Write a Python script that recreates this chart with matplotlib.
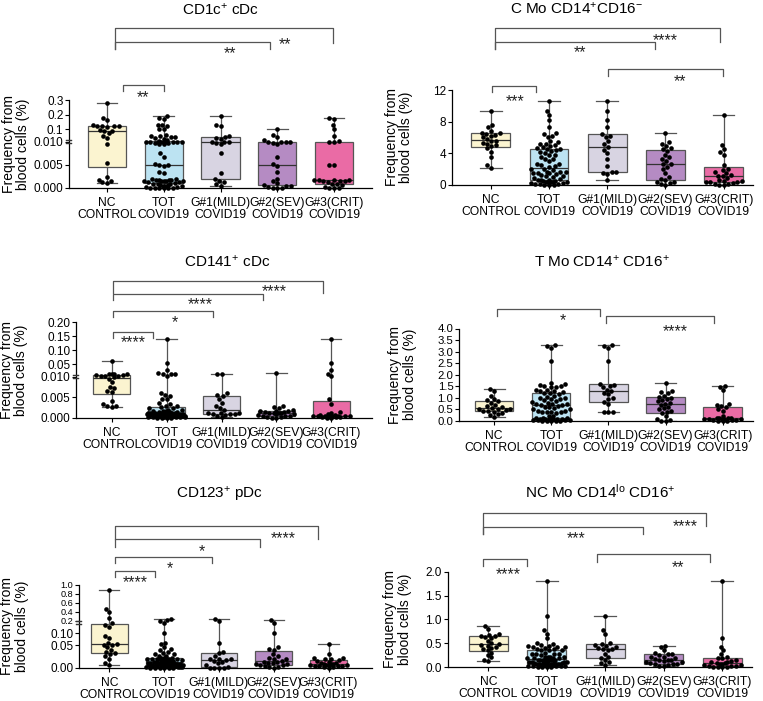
import numpy as np
import matplotlib
matplotlib.use("Agg")
import matplotlib.pyplot as plt
from matplotlib import transforms as mtrans

plt.rcParams["font.family"] = ["Liberation Sans", "DejaVu Sans"]
plt.rcParams["mathtext.fontset"] = "custom"
plt.rcParams["mathtext.rm"] = "Liberation Sans"
plt.rcParams["mathtext.it"] = "Liberation Sans:italic"

# ---- data (frequency from blood cells, %) ----
groups = ["NC\nCONTROL", "TOT\nCOVID19", "G#1(MILD)\nCOVID19", "G#2(SEV)\nCOVID19", "G#3(CRIT)\nCOVID19"]
colors = ["#FBF4D0", "#BCE3F2", "#D8D4E2", "#B58BC3", "#EA6BA5"]

cd1c_nc = [0.0010, 0.0012, 0.0015, 0.0018, 0.0023, 0.0054, 0.0095, 0.04, 0.054, 0.071, 0.085, 0.09, 0.095,
           0.118, 0.12, 0.121, 0.123, 0.125, 0.128, 0.167, 0.179, 0.284]
cd1c_g1 = [0.0005, 0.0008, 0.0012, 0.0015, 0.002, 0.0032, 0.0075, 0.0095, 0.0098, 0.010, 0.0105, 0.012,
           0.03, 0.04, 0.046, 0.05, 0.12, 0.13, 0.19]
cd1c_g2 = [0, 0, 0, 0.0002, 0.0004, 0.0005, 0.0007, 0.001, 0.0015, 0.002, 0.0035, 0.0048, 0.0052, 0.0068,
           0.0095, 0.0098, 0.010, 0.0101, 0.0103, 0.0105, 0.025, 0.045, 0.06, 0.10]
cd1c_g3 = [0, 0, 0, 0.0003, 0.0006, 0.0009, 0.0009, 0.0012, 0.0015, 0.0016, 0.0016, 0.0017, 0.0017, 0.0018,
           0.0018, 0.005, 0.005, 0.010, 0.011, 0.0122, 0.05, 0.10, 0.13, 0.17, 0.175]

cmo_nc = [2.1, 2.5, 3.5, 4.2, 4.6, 4.9, 5.0, 5.2, 5.3, 5.5, 5.6, 5.8, 6.0, 6.2, 6.3, 6.4, 6.5, 6.6, 6.8, 7.3, 7.6, 9.4]
cmo_g1 = [0.65, 1.4, 1.5, 1.6, 1.65, 2.4, 3.3, 4.0, 4.4, 4.75, 5.15, 5.5, 6.0, 6.2, 6.4, 7.35, 8.2, 9.3, 10.6]
cmo_g2 = [0.0, 0.1, 0.2, 0.3, 0.4, 0.6, 0.7, 1.0, 1.5, 2.0, 2.3, 2.6, 2.65, 3.0, 3.3, 3.5, 3.8, 4.3, 4.5, 4.6,
          4.9, 5.2, 5.4, 6.55]
cmo_g3 = [0, 0, 0.05, 0.15, 0.25, 0.3, 0.4, 0.4, 0.45, 0.5, 0.6, 0.9, 1.1, 1.15, 1.2, 1.5, 1.6, 1.9, 2.0, 2.5,
          3.8, 4.2, 4.5, 5.0, 8.8]

cd141_nc = [0.0027, 0.0028, 0.003, 0.0033, 0.0040, 0.0063, 0.0065, 0.0072, 0.0076, 0.0086, 0.0095, 0.0099,
            0.011, 0.012, 0.013, 0.015, 0.016, 0.017, 0.018, 0.019, 0.02, 0.063]
cd141_g1 = [0.0002, 0.0006, 0.0008, 0.0009, 0.001, 0.001, 0.0011, 0.0012, 0.0013, 0.002, 0.0024, 0.0028,
            0.0036, 0.0046, 0.0053, 0.0056, 0.006, 0.018, 0.0185]
cd141_g2 = [0.0, 0.0001, 0.0002, 0.0003, 0.0004, 0.0005, 0.0006, 0.0008, 0.0009, 0.001, 0.0011, 0.0012,
            0.0012, 0.0013, 0.0014, 0.0015, 0.0016, 0.0017, 0.0018, 0.002, 0.0023, 0.0026, 0.003, 0.022]
cd141_g3 = [0, 0.0001, 0.0002, 0.0003, 0.0003, 0.0004, 0.0004, 0.0005, 0.0005, 0.0005, 0.0006, 0.0006,
            0.0006, 0.0007, 0.0008, 0.0009, 0.0012, 0.0015, 0.0035, 0.0045, 0.011, 0.02, 0.033, 0.054, 0.14]

tmo_nc = [0.17, 0.25, 0.3, 0.35, 0.4, 0.42, 0.45, 0.48, 0.5, 0.5, 0.52, 0.58, 0.6, 0.65, 0.7, 0.8, 0.85, 0.9,
          0.95, 1.08, 1.3, 1.4]
tmo_g1 = [0.38, 0.38, 0.4, 0.72, 0.82, 0.95, 1.0, 1.15, 1.2, 1.3, 1.35, 1.45, 1.5, 1.55, 1.58, 2.6, 3.17,
          3.25, 3.28]
tmo_g2 = [0.0, 0.02, 0.05, 0.1, 0.2, 0.35, 0.4, 0.45, 0.5, 0.55, 0.6, 0.7, 0.75, 0.8, 0.85, 0.9, 0.95, 1.0,
          1.05, 1.1, 1.2, 1.25, 1.3, 1.66]
tmo_g3 = [0, 0.01, 0.02, 0.03, 0.05, 0.06, 0.07, 0.08, 0.09, 0.1, 0.1, 0.11, 0.12, 0.13, 0.15, 0.2, 0.45, 0.5,
          0.6, 0.65, 0.7, 0.75, 1.32, 1.48, 1.5]

cd123_nc = [0.005, 0.01, 0.02, 0.025, 0.03, 0.033, 0.035, 0.04, 0.045, 0.05, 0.052, 0.055, 0.06, 0.08, 0.09,
            0.15, 0.17, 0.18, 0.27, 0.39, 0.47, 0.87]
cd123_g1 = [0, 0, 0, 0, 0.001, 0.005, 0.01, 0.012, 0.015, 0.017, 0.018, 0.02, 0.02, 0.025, 0.033, 0.035, 0.06,
            0.2, 0.244]
cd123_g2 = [0.0, 0.001, 0.002, 0.003, 0.005, 0.006, 0.007, 0.008, 0.01, 0.011, 0.012, 0.013, 0.015, 0.018,
            0.02, 0.022, 0.025, 0.03, 0.04, 0.042, 0.045, 0.107, 0.18, 0.23]
cd123_g3 = [0, 0.001, 0.002, 0.003, 0.003, 0.004, 0.004, 0.005, 0.005, 0.006, 0.006, 0.007, 0.008, 0.008,
            0.009, 0.01, 0.012, 0.015, 0.017, 0.018, 0.02, 0.021, 0.022, 0.03, 0.053]

ncmo_nc = [0.13, 0.15, 0.2, 0.25, 0.3, 0.35, 0.38, 0.4, 0.42, 0.45, 0.47, 0.49, 0.5, 0.55, 0.6, 0.63, 0.65,
           0.66, 0.68, 0.7, 0.8, 0.87]
ncmo_g1 = [0.04, 0.08, 0.1, 0.15, 0.18, 0.22, 0.28, 0.35, 0.37, 0.38, 0.4, 0.42, 0.44, 0.46, 0.475, 0.5, 0.7,
           0.78, 1.06]
ncmo_g2 = [0.02, 0.03, 0.05, 0.06, 0.07, 0.07, 0.08, 0.1, 0.1, 0.12, 0.14, 0.15, 0.15, 0.17, 0.18, 0.2, 0.22,
           0.25, 0.27, 0.28, 0.3, 0.35, 0.42, 0.45]
ncmo_g3 = [0.0, 0.0, 0.01, 0.01, 0.02, 0.02, 0.03, 0.04, 0.05, 0.06, 0.07, 0.08, 0.09, 0.1, 0.1, 0.12, 0.15,
           0.18, 0.19, 0.2, 0.27, 0.35, 0.43, 0.6, 1.8]

titles = ["CD1c$^{+}$ cDc", "C Mo CD14$^{+}$CD16$^{-}$", "CD141$^{+}$ cDc",
          "T Mo CD14$^{+}$ CD16$^{+}$", "CD123$^{+}$ pDc", "NC Mo CD14$^{\\mathrm{lo}}$ CD16$^{+}$"]

# ---- layout (reference pixels) ----
W, H = 763, 701
LAYOUT = [
    dict(box=(69, 372, 100.3, 188), x0=107, dx=56.75, title=(220, 10), ylab=16, tfs=8.5,
         seg=([0, 0.01, 0.1, 0.3], [0, 137, 174, 260]), brk=0.010,
         ticks=[0, 0.005, 0.010, 0.1, 0.2, 0.3], tlab=["0.000", "0.005", "0.010", "0.1", "0.2", "0.3"],
         brackets=[(0.28, 1.0, 1.174, 1.106, 1.106, "**", 0.63, 1.083),
                   (0.14, 2.87, 1.668, 1.582, 1.582, "**", 2.17, 1.585),
                   (0.14, 3.98, 1.821, 1.582, 1.657, "**", 3.14, 1.688)]),
    dict(box=(451.7, 753, 90, 184.7), x0=490.8, dx=58.2, title=(577, 9), ylab=399, tfs=8.5,
         seg=None, brk=None, ticks=[0, 4, 8, 12], tlab=["0", "4", "8", "12"],
         brackets=[(0.02, 0.77, 1.047, 0.979, 0.979, "***", 0.42, 0.926),
                   (0.07, 2.82, 1.510, 1.430, 1.430, "**", 1.53, 1.440),
                   (0.07, 3.93, 1.652, 1.430, 1.510, "****", 2.99, 1.570),
                   (2.02, 3.99, 1.222, 1.148, 1.148, "**", 3.25, 1.140)]),
    dict(box=(76, 372, 322.3, 418), x0=111.7, dx=54.9, title=(227, 262), ylab=14, tfs=8.5,
         seg=([0, 0.010, 0.05, 0.20], [0, 124, 161, 287]), brk=0.010,
         ticks=[0, 0.005, 0.010, 0.05, 0.10, 0.15, 0.20],
         tlab=["0.000", "0.005", "0.010", "0.05", "0.10", "0.15", "0.20"],
         brackets=[(0.03, 0.76, 0.896, 0.839, 0.839, "****", 0.39, 0.833),
                   (0.03, 1.85, 1.118, 1.052, 1.052, "*", 1.15, 1.045),
                   (0.03, 2.76, 1.293, 1.233, 1.233, "****", 1.61, 1.233),
                   (0.03, 3.85, 1.435, 1.303, 1.303, "****", 2.97, 1.366)]),
    dict(box=(459, 753, 328.5, 421), x0=494.2, dx=57.1, title=(602, 262), ylab=402.5, tfs=8.2,
         seg=None, brk=None, ticks=[0, 0.5, 1.0, 1.5, 2.0, 2.5, 3.0, 3.5, 4.0],
         tlab=["0.0", "0.5", "1.0", "1.5", "2.0", "2.5", "3.0", "3.5", "4.0"],
         brackets=[(0.05, 1.85, 1.208, 1.135, 1.135, "*", 1.20, 1.135),
                   (1.96, 3.85, 1.135, 1.056, 1.056, "****", 3.17, 1.019)]),
    dict(box=(79, 372, 584.5, 667.5), x0=109.3, dx=54.8, title=(220, 495), ylab=14.5, tfs=8.5, tfs_up=6.6,
         seg=([0, 0.05, 0.10, 0.2, 1.0], [0, 68, 103, 141, 251]), brk=0.18,
         ticks=[0, 0.05, 0.10, 0.2, 0.4, 0.6, 0.8, 1.0],
         tlab=["0.00", "0.05", "0.10", "0.2", "0.4", "0.6", "0.8", "1.0"],
         brackets=[(0.10, 0.83, 1.163, 1.094, 1.094, "****", 0.47, 1.075),
                   (0.10, 1.88, 1.335, 1.263, 1.263, "*", 1.11, 1.247),
                   (0.10, 2.75, 1.545, 1.448, 1.448, "*", 1.69, 1.448),
                   (0.10, 3.81, 1.708, 1.545, 1.545, "****", 3.18, 1.608)]),
    dict(box=(447.5, 751.7, 571.7, 667), x0=488.3, dx=58.5, title=(600, 492), ylab=397.5, tfs=8.5,
         seg=None, brk=None, ticks=[0, 0.5, 1.0, 1.5, 2.0], tlab=["0.0", "0.5", "1.0", "1.5", "2.0"],
         brackets=[(-0.09, 0.66, 1.133, 1.063, 1.063, "****", 0.34, 1.018),
                   (-0.09, 2.65, 1.472, 1.396, 1.396, "***", 1.51, 1.396),
                   (-0.09, 3.72, 1.613, 1.396, 1.480, "****", 3.36, 1.525),
                   (1.85, 3.79, 1.183, 1.105, 1.105, "**", 3.25, 1.088)]),
]
PANEL_DATA = [
    (cd1c_nc, cd1c_g1, cd1c_g2, cd1c_g3),
    (cmo_nc, cmo_g1, cmo_g2, cmo_g3),
    (cd141_nc, cd141_g1, cd141_g2, cd141_g3),
    (tmo_nc, tmo_g1, tmo_g2, tmo_g3),
    (cd123_nc, cd123_g1, cd123_g2, cd123_g3),
    (ncmo_nc, ncmo_g1, ncmo_g2, ncmo_g3),
]
EDGE = "#555555"


def piecewise(xs, ys):
    """segmented (broken) axis as a piecewise-linear function scale"""
    xs = np.asarray(xs, float); ys = np.asarray(ys, float)

    def make(a, b):
        def f(v):
            v = np.asarray(v, float)
            out = np.interp(v, a, b)
            out = np.where(v < a[0], b[0] + (v - a[0]) * (b[1] - b[0]) / (a[1] - a[0]), out)
            out = np.where(v > a[-1], b[-1] + (v - a[-1]) * (b[-1] - b[-2]) / (a[-1] - a[-2]), out)
            return out
        return f
    return make(xs, ys), make(ys, xs)


def swarm(ypix, diam, limit):
    xs = np.zeros(len(ypix)); placed = []
    for i in np.argsort(ypix, kind="stable"):
        y = ypix[i]; x = None
        for d in (diam, diam * 0.55):
            near = [(a, b) for a, b in placed if abs(b - y) < d]
            cands = [0.0]
            for a, b in near:
                w = np.sqrt(d * d - (b - y) ** 2)
                cands += [a - w, a + w]
            cands.sort(key=lambda c: (abs(c), c))
            x = None
            for c in cands:
                if all((c - a) ** 2 + (y - b) ** 2 >= d * d - 1e-6 for a, b in near):
                    x = c; break
            if x is not None and abs(x) <= limit:
                break
        if x is None or abs(x) > limit:
            x = ((len(placed) * 7.3) % (2 * limit)) - limit
        xs[i] = x; placed.append((x, y))
    return xs


def stats(v):
    v = np.asarray(v, float)
    q1, med, q3 = np.percentile(v, [25, 50, 75], method="weibull")
    return dict(med=med, q1=q1, q3=q3, whislo=v.min(), whishi=v.max(), fliers=[])


fig = plt.figure(figsize=(W / 100, H / 100), dpi=100)

for lay, (nc, g1, g2, g3), title in zip(LAYOUT, PANEL_DATA, titles):
    l, r, t, b = lay["box"]
    ax = fig.add_axes([l / W, 1 - b / H, (r - l) / W, (b - t) / H])
    sets = [nc, list(g1) + list(g2) + list(g3), g1, g2, g3]
    if lay["seg"] is not None:
        ax.set_yscale("function", functions=piecewise(*lay["seg"]))
    ax.set_ylim(0, lay["ticks"][-1])
    ax.set_xlim((l - lay["x0"]) / lay["dx"], (r - lay["x0"]) / lay["dx"])
    pos = np.arange(5)

    bp = ax.bxp([stats(s) for s in sets], positions=pos, widths=0.67, capwidths=0.37,
                patch_artist=True, showfliers=False,
                boxprops=dict(edgecolor=EDGE, linewidth=0.9),
                whiskerprops=dict(color=EDGE, linewidth=0.9),
                capprops=dict(color=EDGE, linewidth=0.9),
                medianprops=dict(color="#333333", linewidth=0.9))
    for patch, c in zip(bp["boxes"], colors):
        patch.set_facecolor(c)

    pxu = ax.transData.transform([[1, 0]])[0, 0] - ax.transData.transform([[0, 0]])[0, 0]
    for p, s in zip(pos, sets):
        s = np.asarray(s, float)
        yp = ax.transData.transform(np.column_stack([np.zeros_like(s), s]))[:, 1]
        off = swarm(yp, 4.6, 0.35 * pxu) / pxu
        ax.scatter(p + off, s, s=11, color="black", linewidths=0, zorder=4, clip_on=False)

    ax.set_xticks(pos)
    ax.set_xticklabels(groups, fontsize=8.7, linespacing=1.0)
    ax.set_yticks(lay["ticks"])
    ax.set_yticklabels(lay["tlab"], fontsize=lay["tfs"])
    if "tfs_up" in lay:
        # crowded upper segment of the broken axis
        for tl in ax.get_yticklabels()[3:]:
            tl.set_fontsize(lay["tfs_up"])
    ax.yaxis.set_minor_locator(matplotlib.ticker.NullLocator())
    ax.tick_params(direction="out", length=3, width=0.8, pad=1)
    ax.tick_params(axis="x", pad=3.5)
    for sp in ("top", "right"):
        ax.spines[sp].set_visible(False)
    for sp in ("left", "bottom"):
        ax.spines[sp].set_linewidth(0.9)

    if lay["brk"] is not None:
        ax.plot([0], [lay["brk"]], marker="$=$", ms=4.5, mew=0.3, color="#333333", clip_on=False,
                transform=mtrans.blended_transform_factory(ax.transAxes, ax.transData), zorder=5)

    bt = mtrans.blended_transform_factory(ax.transData, ax.transAxes)
    for x1, x2, y, yl, yr, lab, lx, ly in lay["brackets"]:
        ax.plot([x1, x1, x2, x2], [yl, y, y, yr], color=EDGE, lw=0.9, transform=bt, clip_on=False)
        ax.annotate(lab, xy=(lx, ly), xycoords=bt, xytext=(0, -6.5), textcoords="offset points",
                    ha="center", va="baseline", fontsize=11.5, color="#222222")

    ax.text((lay["ylab"] - l) / (r - l), 0.5, "Frequency from\nblood cells (%)", rotation=90,
            ha="center", va="center", fontsize=10, linespacing=1.05, transform=ax.transAxes)
    fig.text(lay["title"][0] / W, 1 - lay["title"][1] / H, title, ha="center", va="center", fontsize=11)

fig.savefig("out.png", dpi=100)
